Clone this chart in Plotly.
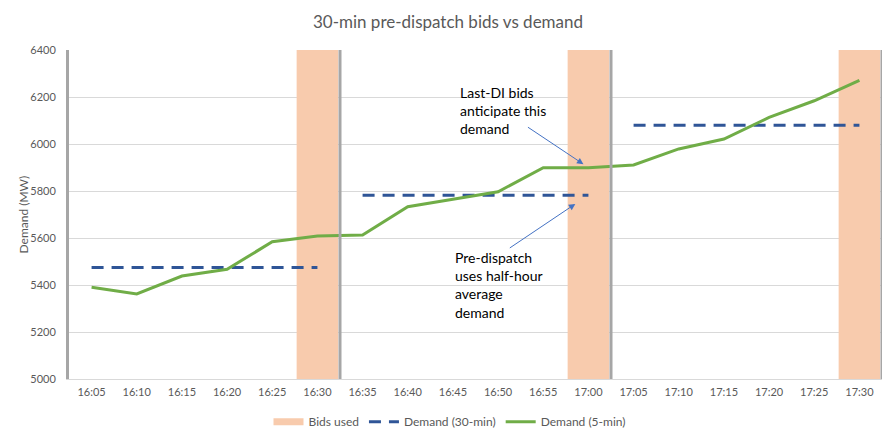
import plotly.graph_objects as go

times = ["16:05", "16:10", "16:15", "16:20", "16:25", "16:30",
         "16:35", "16:40", "16:45", "16:50", "16:55", "17:00",
         "17:05", "17:10", "17:15", "17:20", "17:25", "17:30"]
demand_5min = [5390, 5362, 5438, 5467, 5584, 5608,
               5613, 5733, 5765, 5797, 5899, 5899,
               5911, 5979, 6021, 6113, 6184, 6271]
demand_30min = [5475, 5475, 5475, 5475, 5475, 5475,
                5782, 5782, 5782, 5782, 5782, 5782,
                6080, 6080, 6080, 6080, 6080, 6080]
bids_used = [None, None, None, None, None, 6400,
             None, None, None, None, None, 6400,
             None, None, None, None, None, 6400]

FONT = "Lato"
GREY_TXT = "#595959"
ORANGE = "#F8CBAD"

# page has an 8px body margin: figure is sized to fit inside the window
W, H = 880, 423
ML, MR, MT, MB = 61, 6, 42, 52
PW = W - ML - MR

fig = go.Figure()

# Bids used bars (full height)
fig.add_trace(go.Bar(x=times, y=bids_used, marker=dict(color=ORANGE, line=dict(width=0)),
                     showlegend=False, hoverinfo="skip"))
# legend proxy for bars
fig.add_trace(go.Scatter(x=[None], y=[None], mode="lines", name="Bids used",
                         line=dict(color=ORANGE, width=7)))

# 30-min demand: break line at each half-hour boundary (where bids are used)
xd, yd = [], []
for i, t in enumerate(times):
    xd.append(t)
    yd.append(demand_30min[i])
    if bids_used[i] is not None and i < len(times) - 1:
        xd.append(t)
        yd.append(None)
fig.add_trace(go.Scatter(x=xd, y=yd, mode="lines", name="Demand (30-min)",
                         connectgaps=False,
                         line=dict(color="#2F5597", width=3, dash="12px,8px")))

fig.add_trace(go.Scatter(x=times, y=demand_5min, mode="lines", name="Demand (5-min)",
                         line=dict(color="#70AD47", width=3)))

# half-hour boundary lines
shapes = []
for i, b in enumerate(bids_used):
    if b is not None:
        shapes.append(dict(type="line", xref="x", yref="paper", x0=i + 0.5, x1=i + 0.5,
                           y0=0, y1=1, line=dict(color="#A6A6A6", width=3)))

annotations = [
    dict(xref="paper", yref="paper", x=0.4785, y=0.8176, xanchor="left", yanchor="middle",
         align="left", showarrow=False, text="Last-DI bids<br>anticipate this<br>demand",
         font=dict(family=FONT, size=14, color="#000000")),
    dict(xref="paper", yref="paper", x=0.472, y=0.2848, xanchor="left", yanchor="middle",
         align="left", showarrow=False,
         text="Pre-dispatch<br>uses half-hour<br>average<br>demand",
         font=dict(family=FONT, size=14, color="#000000")),
    dict(xref="x", yref="y", x=10.89, y=5914, text="", showarrow=True,
         axref="pixel", ayref="pixel", ax=-57, ay=-38,
         arrowhead=2, arrowsize=1.3, arrowwidth=1, arrowcolor="#4472C4", standoff=0),
    dict(xref="x", yref="y", x=10.71, y=5745, text="", showarrow=True,
         axref="pixel", ayref="pixel", ax=-67, ay=45,
         arrowhead=2, arrowsize=1.3, arrowwidth=1, arrowcolor="#4472C4", standoff=0),
    dict(xref="paper", yref="paper", x=(15 - ML) / PW, y=0.5, xanchor="center",
         yanchor="middle", textangle=-90, showarrow=False, text="Demand (MW)",
         font=dict(family=FONT, size=12, color=GREY_TXT)),
]

fig.update_layout(
    width=W, height=H,
    margin=dict(l=ML, r=MR, t=MT, b=MB, autoexpand=False),
    paper_bgcolor="white", plot_bgcolor="white",
    font=dict(family=FONT, size=11, color=GREY_TXT),
    title=dict(text="30-min pre-dispatch bids vs demand", x=0.5, xref="container",
               xanchor="center", y=1 - 14 / H, yref="container", yanchor="middle",
               font=dict(family=FONT, size=17, color=GREY_TXT)),
    bargap=0.08,
    showlegend=True,
    legend=dict(orientation="h", xref="container", yref="container", x=441.5 / W,
                y=1 - 413.7 / H, xanchor="center", yanchor="middle",
                font=dict(family=FONT, size=12, color=GREY_TXT), traceorder="normal"),
    shapes=shapes,
    annotations=annotations,
)

fig.update_xaxes(type="category", categoryorder="array", categoryarray=times,
                 range=[-0.5, len(times) - 0.5], automargin=False,
                 showline=True, linecolor="#D9D9D9", linewidth=1, showgrid=False,
                 ticks="", ticklabelstandoff=3, tickfont=dict(size=11, color=GREY_TXT))
fig.update_yaxes(range=[5000, 6400], dtick=200, tick0=5000, showgrid=True, gridcolor="#D9D9D9",
                 gridwidth=1, showline=True, linecolor="#A6A6A6", linewidth=3, zeroline=False,
                 automargin=False,
                 ticks="", ticklabelstandoff=8, tickfont=dict(size=11, color=GREY_TXT))

fig.write_html("out.html")
